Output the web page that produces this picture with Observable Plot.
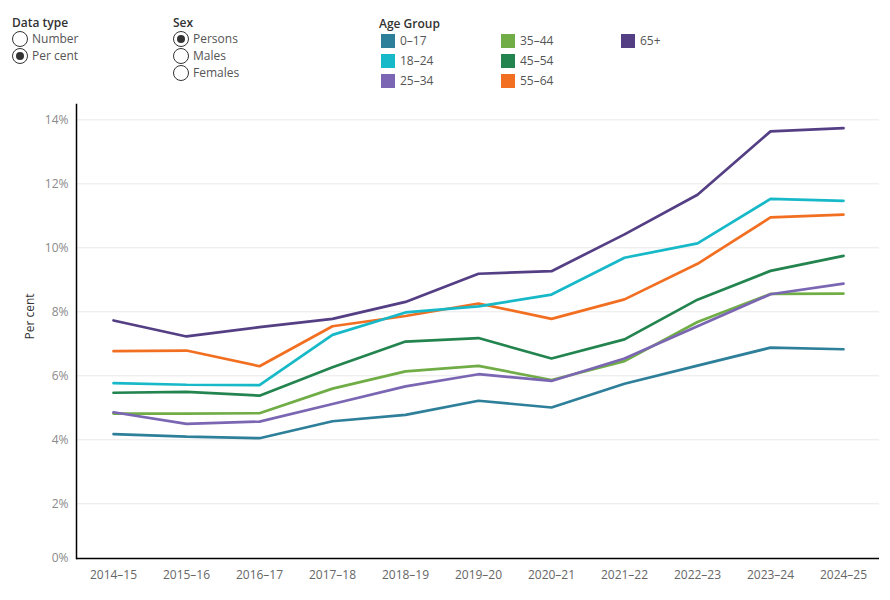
<!DOCTYPE html>
<html>
<head>
<meta charset="utf-8">
<script src="https://cdn.jsdelivr.net/npm/d3@7"></script>
<script src="https://cdn.jsdelivr.net/npm/@observablehq/plot@0.6"></script>
<style>
  body { margin: 0; background: #fff; font-family: "Open Sans", "Noto Sans", sans-serif; }
  #wrap { position: relative; width: 890px; height: 600px; overflow: hidden; }
  #head { position: relative; height: 95px; }
  .ttl { position: absolute; font-size: 12px; font-weight: 600; color: #333; }
  .opt { position: absolute; font-size: 12px; color: #555; line-height: 16px; }
  .radio { position: absolute; width: 16px; height: 16px; border: 1px solid #333; border-radius: 50%; box-sizing: border-box; background: #fff; }
  .radio.on::after { content: ""; position: absolute; left: 3px; top: 3px; width: 8px; height: 8px; border-radius: 50%; background: #333; }
  .sw { position: absolute; width: 14px; height: 14px; }
  .lg { position: absolute; font-size: 12px; color: #555; line-height: 16px; }
</style>
</head>
<body>
<div id="wrap">
  <div id="head"></div>
  <div id="chart"></div>
</div>
<script>
const years = ["2014–15","2015–16","2016–17","2017–18","2018–19","2019–20","2020–21","2021–22","2022–23","2023–24","2024–25"];
const groups = ["0–17","18–24","25–34","35–44","45–54","55–64","65+"];
const colors = ["#2e7f9a","#17b9c8","#7b66b3","#71ad47","#23844f","#f26f21","#543f85"];
const v0_17  = [4.18,4.10,4.05,4.58,4.78,5.22,5.01,5.75,6.32,6.88,6.83];
const v18_24 = [5.77,5.72,5.71,7.28,7.98,8.17,8.54,9.69,10.14,11.53,11.47];
const v25_34 = [4.86,4.50,4.57,5.12,5.67,6.05,5.84,6.54,7.55,8.55,8.88];
const v35_44 = [4.82,4.82,4.83,5.60,6.14,6.31,5.87,6.46,7.68,8.56,8.57];
const v45_54 = [5.47,5.50,5.38,6.27,7.07,7.18,6.54,7.14,8.38,9.28,9.75];
const v55_64 = [6.77,6.79,6.30,7.55,7.87,8.26,7.78,8.39,9.50,10.95,11.04];
const v65    = [7.73,7.23,7.52,7.78,8.31,9.19,9.27,10.42,11.66,13.64,13.74];
const yTicks = [2,4,6,8,10,12,14];
const yDomain = [0.29, 14.48];
const dataTypes = ["Number","Per cent"];
const sexes = ["Persons","Males","Females"];

const series = [v0_17, v18_24, v25_34, v35_44, v45_54, v55_64, v65];
const rows = [];
// draw older groups first so younger lines sit on top
for (let g = groups.length - 1; g >= 0; g--) {
  series[g].forEach((v, i) => rows.push({year: years[i], group: groups[g], value: v}));
}

// header controls
const head = document.getElementById("head");
function add(cls, left, top, text) {
  const d = document.createElement("div");
  d.className = cls; d.style.left = left + "px"; d.style.top = top + "px";
  if (text != null) d.textContent = text;
  head.appendChild(d); return d;
}
add("ttl", 12, 14, "Data type");
dataTypes.forEach((t, i) => {
  add("radio" + (i === 1 ? " on" : ""), 12, 31 + i * 17);
  add("opt", 32, 31 + i * 17, t);
});
add("ttl", 173, 14, "Sex");
sexes.forEach((t, i) => {
  add("radio" + (i === 0 ? " on" : ""), 173, 31 + i * 17);
  add("opt", 193, 31 + i * 17, t);
});
add("ttl", 379, 15, "Age Group");
groups.forEach((g, i) => {
  const col = Math.floor(i / 3), row = i % 3;
  const sw = add("sw", 381 + col * 120, 34 + row * 20);
  sw.style.background = colors[i];
  add("lg", 400 + col * 120, 33 + row * 20, g);
});

const chart = Plot.plot({
  width: 890,
  height: 505,
  marginTop: 9,
  marginBottom: 42,
  marginLeft: 76,
  marginRight: 11,
  style: {fontFamily: "'Open Sans', 'Noto Sans', sans-serif", fontSize: "12px", background: "#fff"},
  x: {type: "point", domain: years, padding: 0.5, label: null},
  y: {domain: yDomain, label: null},
  color: {domain: groups, range: colors},
  marks: [
    Plot.gridY(yTicks, {stroke: "#e8e8e8", strokeOpacity: 1}),
    Plot.axisY(yTicks, {tickSize: 0, tickPadding: 8, tickFormat: d => d + "%", fill: "#8a8a8a", label: null}),
    Plot.axisY([yDomain[0]], {tickSize: 0, tickPadding: 8, tickFormat: () => "0%", fill: "#8a8a8a", label: null}),
    Plot.axisX({tickSize: 0, tickPadding: 12, fill: "#666", label: null}),
    Plot.text(["Per cent"], {frameAnchor: "left", dx: -46, dy: 8, rotate: -90, fill: "#333", fontSize: 12}),
    Plot.line(rows, {x: "year", y: "value", z: "group", stroke: "group", strokeWidth: 2.7, strokeLinejoin: "miter"}),
    Plot.ruleY([yDomain[0]], {stroke: "#000", strokeWidth: 1.5}),
    Plot.frame({anchor: "left", stroke: "#000", strokeWidth: 1.5})
  ]
});
document.getElementById("chart").appendChild(chart);
</script>
</body>
</html>
